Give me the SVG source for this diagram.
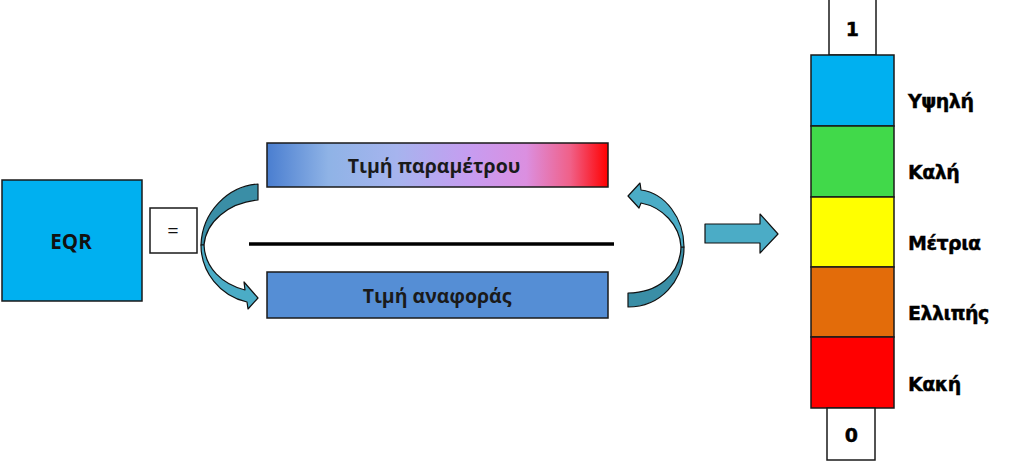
<svg xmlns="http://www.w3.org/2000/svg" width="1023" height="464" viewBox="0 0 1023 464">
<defs>
<linearGradient id="grad" x1="0" y1="0" x2="1" y2="0">
<stop offset="0" stop-color="#4a7ed0"/>
<stop offset="0.18" stop-color="#8fb3e6"/>
<stop offset="0.38" stop-color="#a6b4ee"/>
<stop offset="0.6" stop-color="#c79cf0"/>
<stop offset="0.76" stop-color="#db8fe0"/>
<stop offset="0.89" stop-color="#f06088"/>
<stop offset="1" stop-color="#ff0000"/>
</linearGradient>
</defs>
<style>
.box{stroke:#1a1a1a;stroke-width:1.5}
.arr{fill:#4bacc6;stroke:#111;stroke-width:1.2;stroke-linejoin:round}
.arrd{fill:#3a8ea6;stroke:#111;stroke-width:1.2;stroke-linejoin:round}
.t{font-family:"Open Sans","Liberation Sans",Arial,sans-serif;fill:#111;text-anchor:middle}
.bt{font-family:"Open Sans","Liberation Sans",Arial,sans-serif;font-weight:bold;font-size:19.5px;fill:#1a1a1a;text-anchor:middle}
.lbl{font-family:"DejaVu Sans",Verdana,sans-serif;font-weight:bold;font-size:19px;fill:#000;letter-spacing:-0.5px;stroke:#000;stroke-width:0.4}
</style>
<rect width="1023" height="464" fill="#fff"/>

<g id="eqr">
<rect class="box" x="2" y="180" width="140" height="121" fill="#00b0f0"/>
<text class="t" x="71" y="249" font-size="20.5" font-weight="bold">EQR</text>
</g>
<g id="equals">
<rect class="box" x="150" y="208" width="47" height="45" fill="#fff"/>
<text class="t" x="173" y="238" font-size="20">=</text>
</g>
<g id="param">
<rect class="box" x="267" y="143" width="341" height="44" fill="url(#grad)"/>
<text class="bt" x="434" y="173">Τιμή παραμέτρου</text>
</g>
<g id="ref">
<rect class="box" x="267" y="272" width="341" height="46" fill="#558ed5"/>
<text class="bt" x="437" y="303">Τιμή αναφοράς</text>
</g>
<g id="fraction-line">
<line x1="249" y1="244" x2="614" y2="244" stroke="#000" stroke-width="3.5"/>
</g>

<g id="connectors">
<path class="arrd" d="M258,184 C228,186 202,212 201,245 L204,245 C206,222 228,203 258,200 Z"/>
<path class="arr" d="M201,245 C201,272 220,296 247,302 L248,309 L258,298 L244,282 L245,290 C222,284 205,268 204,245 Z"/>
<path class="arrd" d="M628,307 C660,307 684,282 684,247 L681,247 C680,275 657,293 628,293 Z"/>
<path class="arr" d="M684,247 C684,218 665,193 641,190 L640,183 L628,196 L639,208 L641,203 C662,207 680,225 681,247 Z"/>
<polygon class="arr" points="705,224 760,224 760,214 778,234 760,253 760,243 705,243"/>
</g>

<g id="scale">
<g id="top-one">
<rect class="box" x="829" y="-1" width="47" height="56" fill="#fff"/>
<text class="lbl" x="852" y="36" text-anchor="middle" font-size="18">1</text>
</g>
<g id="high">
<rect class="box" x="811" y="55" width="83" height="71" fill="#00b0f0"/>
<text class="lbl" x="908" y="108">Υψηλή</text>
</g>
<g id="good">
<rect class="box" x="811" y="126" width="83" height="71" fill="#41d94a"/>
<text class="lbl" x="908" y="179">Καλή</text>
</g>
<g id="moderate">
<rect class="box" x="811" y="197" width="83" height="70" fill="#ffff00"/>
<text class="lbl" x="908" y="250">Μέτρια</text>
</g>
<g id="poor">
<rect class="box" x="811" y="267" width="83" height="70" fill="#e36c0a"/>
<text class="lbl" x="908" y="320">Ελλιπής</text>
</g>
<g id="bad">
<rect class="box" x="811" y="337" width="83" height="71" fill="#ff0000"/>
<text class="lbl" x="908" y="391">Κακή</text>
</g>
<g id="bottom-zero">
<rect class="box" x="827" y="408" width="48" height="52" fill="#fff"/>
<text class="lbl" x="851" y="442" text-anchor="middle" font-size="18">0</text>
</g>
</g>
</svg>
